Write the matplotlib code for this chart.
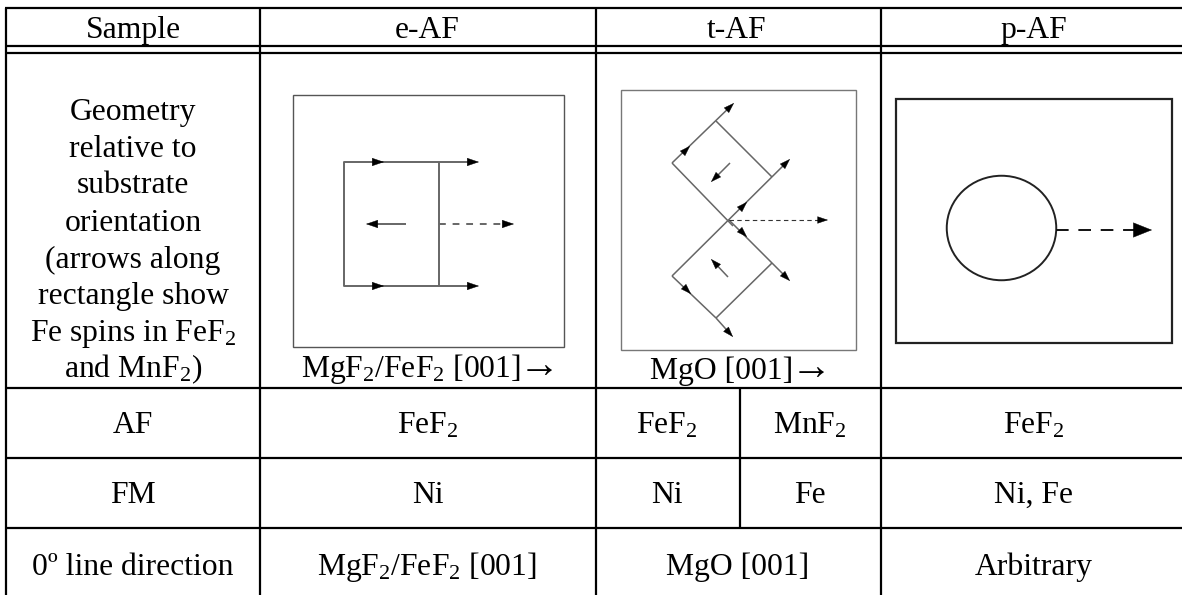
#!/usr/bin/env python3
"""
Redraws the sample geometry table: e-AF, t-AF and p-AF columns with their
orientation sketches. Works in pixel coordinates of the 1182x595 figure.
"""

import math

import matplotlib
matplotlib.use('Agg')
import matplotlib.pyplot as plt
from matplotlib.patches import Ellipse, FancyArrowPatch, Rectangle

plt.rcParams['font.family'] = ['Liberation Serif', 'DejaVu Serif']
plt.rcParams['mathtext.default'] = 'regular'

# Table text
row_labels = ['Sample', 'AF', 'FM', '0º line direction']
header_cols = ['e-AF', 't-AF', 'p-AF']
geometry_lines = ['Geometry', 'relative to', 'substrate', 'orientation', '(arrows along',
                  'rectangle show', 'Fe spins in FeF$_2$', 'and MnF$_2$)']
af_values = ['FeF$_2$', 'FeF$_2$', 'MnF$_2$', 'FeF$_2$']
fm_values = ['Ni', 'Ni', 'Fe', 'Ni, Fe']
direction_values = ['MgF$_2$/FeF$_2$ [001]', 'MgO [001]', 'Arbitrary']
e_caption = 'MgF$_2$/FeF$_2$ [001]'
t_caption = 'MgO [001]'
caption_arrow = '→'

FONT_SIZE = 22.8
LINE_W = 1.6
SKETCH_GREY = '#666666'


def put_text(ax, x, y, s, size=FONT_SIZE):
    ax.text(x, y, s, ha='center', va='baseline', fontsize=size, color='black')


def head_at(ax, tip, direction, head=8, width=0.034, color='black'):
    """Filled arrow head with its tip at the given point."""
    norm = math.hypot(direction[0], direction[1])
    start = (tip[0] - direction[0] / norm * 4, tip[1] - direction[1] / norm * 4)
    ax.add_patch(FancyArrowPatch(start, tip, arrowstyle=f'-|>,head_length={head * 0.1},head_width={head * width}',
                                 mutation_scale=10, shrinkA=0, shrinkB=0, color=color, lw=0.3,
                                 zorder=3))


def arrow(ax, start, end, head=8, width=0.034, color=SKETCH_GREY, lw=1.4, ls='-'):
    """Line from start to end with a black head at end."""
    dx, dy = end[0] - start[0], end[1] - start[1]
    norm = math.hypot(dx, dy)
    back = head * 1.39 * 0.8
    stop = (end[0] - dx / norm * back, end[1] - dy / norm * back)
    segments(ax, [start, stop], color=color, lw=lw, ls=ls)
    head_at(ax, end, (dx, dy), head=head, width=width)


def segments(ax, points, color=SKETCH_GREY, lw=1.4, ls='-'):
    ax.plot([p[0] for p in points], [p[1] for p in points], color=color, lw=lw, ls=ls,
            solid_capstyle='butt', dash_capstyle='butt', zorder=2)


def draw_grid(ax):
    for x in [6, 260, 596, 881]:
        ax.plot([x, x], [8, 595], color='black', lw=LINE_W, solid_capstyle='butt')
    ax.plot([740, 740], [388, 528], color='black', lw=LINE_W, solid_capstyle='butt')
    for y in [8, 46, 53, 388, 458, 528]:
        ax.plot([5, 1182], [y, y], color='black', lw=LINE_W, solid_capstyle='butt')


def draw_e_af(ax):
    ax.add_patch(Rectangle((293, 95), 271, 252, fill=False, ec='#555555', lw=1.0))
    segments(ax, [(439, 162), (344, 162), (344, 286), (439, 286)])
    segments(ax, [(439, 162), (439, 286)])
    for y in [162, 286]:
        arrow(ax, (439, y), (479, y))
        head_at(ax, (384, y), (1, 0))
    arrow(ax, (406, 224), (366, 224))
    arrow(ax, (439, 224), (514, 224), ls=(0, (3.5, 3.5)))


def draw_t_af(ax):
    ax.add_patch(Rectangle((621, 90), 235, 260, fill=False, ec='#777777', lw=1.0))
    # upper diamond
    arrow(ax, (672, 163), (734, 103), head=7, lw=1.1)
    segments(ax, [(672, 163), (733, 226)], lw=1.1)
    segments(ax, [(716, 121), (772, 177)], lw=1.1)
    arrow(ax, (672, 276), (790, 159), head=7, lw=1.1)
    # lower diamond
    segments(ax, [(672, 276), (716, 318)], lw=1.1)
    arrow(ax, (716, 318), (733, 337), head=7, lw=1.1)
    segments(ax, [(716, 318), (772, 263)], lw=1.1)
    arrow(ax, (729, 220), (790, 281), head=7, lw=1.1)
    # inner arrows and the dashed reference line
    arrow(ax, (730, 163), (711, 182), head=7, lw=1.1)
    arrow(ax, (728, 277), (711, 259), head=7, lw=1.1)
    arrow(ax, (729, 220), (828, 220), head=7, color='#333333', lw=0.8, ls=(0, (4, 3)))
    head_at(ax, (690, 146), (1, -1), head=7)
    head_at(ax, (747, 202), (1, -1), head=7)
    head_at(ax, (747, 237), (1, 1), head=7)
    head_at(ax, (691, 294), (1, 1), head=7)


def draw_p_af(ax):
    ax.add_patch(Rectangle((896, 99), 276, 244, fill=False, ec='#222222', lw=1.6))
    ax.add_patch(Ellipse((1001.5, 228), 109.5, 104.5, fill=False, ec='#222222', lw=1.4))
    arrow(ax, (1056, 230), (1152, 230), head=13, width=0.04, color='#111111', lw=1.4, ls=(0, (6.5, 5)))


def main():
    fig = plt.figure(figsize=(11.82, 5.95), dpi=100)
    ax = fig.add_axes([0, 0, 1, 1])
    ax.set_xlim(0, 1182)
    ax.set_ylim(595, 0)
    ax.axis('off')

    draw_grid(ax)
    draw_e_af(ax)
    draw_t_af(ax)
    draw_p_af(ax)

    # Header row
    put_text(ax, 133, 38, row_labels[0])
    for x, label in zip([427, 737, 1034], header_cols):
        put_text(ax, x, 38, label)

    # Geometry row
    for y, line in zip([120, 157, 193, 231, 268, 304, 341, 377], geometry_lines):
        put_text(ax, 133, y, line)
    put_text(ax, 411, 377, e_caption)
    put_text(ax, 539, 377, caption_arrow, size=FONT_SIZE * 1.3)
    put_text(ax, 722, 379, t_caption)
    put_text(ax, 811, 379, caption_arrow, size=FONT_SIZE * 1.3)

    # AF, FM and direction rows
    put_text(ax, 133, 433, row_labels[1])
    for x, value in zip([428, 667, 810, 1034], af_values):
        put_text(ax, x, 433, value)
    put_text(ax, 133, 503, row_labels[2])
    for x, value in zip([428, 667, 810, 1034], fm_values):
        put_text(ax, x, 503, value)
    put_text(ax, 133, 575, row_labels[3])
    for x, value in zip([427, 738, 1034], direction_values):
        put_text(ax, x, 575, value)

    fig.savefig('out.png', dpi=100)
    plt.close(fig)


if __name__ == "__main__":
    main()
